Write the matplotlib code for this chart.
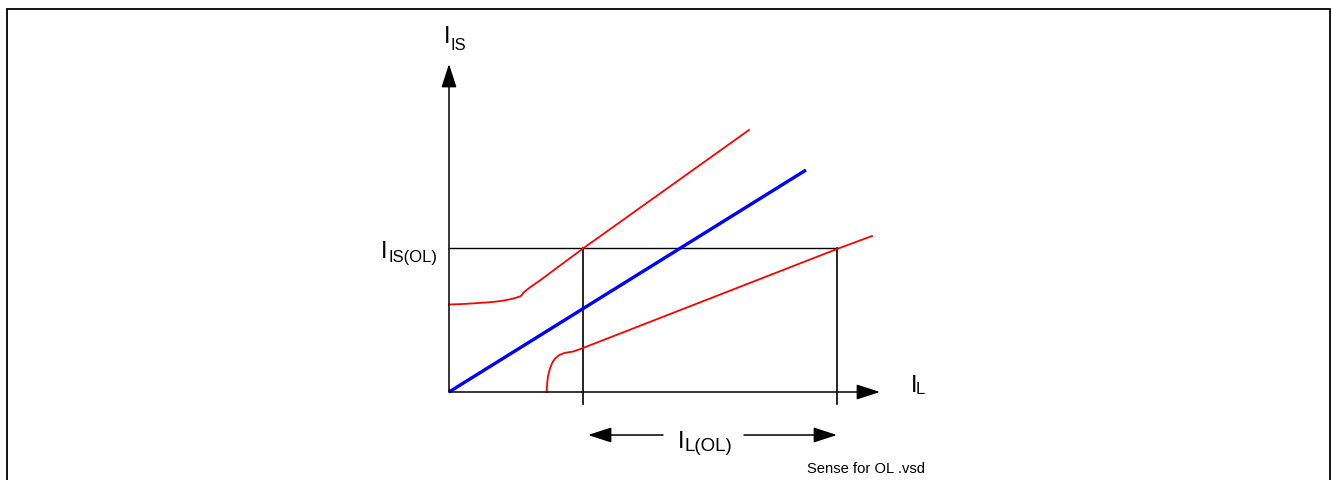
import numpy as np
from matplotlib import pyplot as plt

plt.rcParams['font.family'] = ['Liberation Sans', 'DejaVu Sans']

# sense current vs load current (diagram units)
il_nominal = [0, 357]
iis_nominal = [0, 222]

il_upper = [0, 12, 24, 41, 52, 58, 64, 68, 71, 72.5, 73.5, 74.5, 77, 81, 91, 134, 300]
iis_upper = [87.5, 87.9, 88.6, 89.8, 91.0, 92.1, 93.4, 94.6, 95.6, 96.5, 97.8, 99.4,
             101.6, 104.6, 111.6, 143.5, 262]

il_lower = [97.7, 97.9, 98.3, 99, 100, 101, 102.5, 104, 106, 108.5, 110.5, 112.7,
            115.5, 119.3, 122, 124.3, 127, 134, 388, 423]
iis_lower = [0, 4.5, 9.7, 15.5, 20, 23.5, 27.5, 30.5, 33.3, 35.6, 37, 38, 39, 39.7,
             40.1, 40.5, 41.5, 44, 143, 156]

il_ol = [134, 388]
iis_ol = 144

axis_labels = ['I', 'IS', 'I', 'L']
ol_labels = ['I', 'IS(OL)', 'I', 'L(OL)']
note = 'Sense for OL .vsd'

fig = plt.figure(figsize=(13.32, 4.81), dpi=100)
ax = fig.add_axes([0, 0, 1, 1])
ax.set_xlim(-449, 1332 - 449)
ax.set_ylim(393 - 481, 393)
ax.axis('off')

# frame
ax.plot([7 - 449, 7 - 449, 1330 - 449, 1330 - 449], [-88, 383, 383, -88],
        color='black', lw=1.3, solid_joinstyle='miter')

# axes with arrows
arr = dict(arrowstyle='-|>,head_length=14.5,head_width=4.7', color='black',
           lw=1.1, shrinkA=0, shrinkB=0, mutation_scale=1)
ax.annotate('', xy=(431, 0), xytext=(0, 0), arrowprops=arr)
ax.annotate('', xy=(0, 328), xytext=(0, 0), arrowprops=arr)

# overload lines
ax.plot([0, il_ol[1]], [iis_ol, iis_ol], color='black', lw=1.0)
for x in il_ol:
    ax.plot([x, x], [-12, iis_ol], color='black', lw=1.2)

# curves
ax.plot(il_nominal, iis_nominal, color='#0000ff', lw=2.4, solid_capstyle='butt')
ax.plot(il_upper, iis_upper, color='#ff0000', lw=1.3)
ax.plot(il_lower, iis_lower, color='#ff0000', lw=1.3)

# double arrow under the x axis
ax.annotate('', xy=(il_ol[0] + 5, -43), xytext=(214, -43), arrowprops=arr)
ax.annotate('', xy=(il_ol[1], -43), xytext=(295, -43), arrowprops=arr)

# labels
ax.text(-5, 350, axis_labels[0], fontsize=17, ha='left', va='baseline')
ax.text(2, 343, axis_labels[1], fontsize=12, ha='left', va='baseline')
ax.text(462, 1, axis_labels[2], fontsize=17, ha='left', va='baseline')
ax.text(467, -1, axis_labels[3], fontsize=12, ha='left', va='baseline')
ax.text(-68, 135, ol_labels[0], fontsize=17, ha='left', va='baseline')
ax.text(-61, 131, ol_labels[1], fontsize=12, ha='left', va='baseline')
ax.text(229, -55, ol_labels[2], fontsize=17, ha='left', va='baseline')
ax.text(236, -58, ol_labels[3], fontsize=13.5, ha='left', va='baseline')
ax.text(358, -80, note, fontsize=10.6, ha='left', va='baseline')

plt.savefig('out.png', dpi=100)
